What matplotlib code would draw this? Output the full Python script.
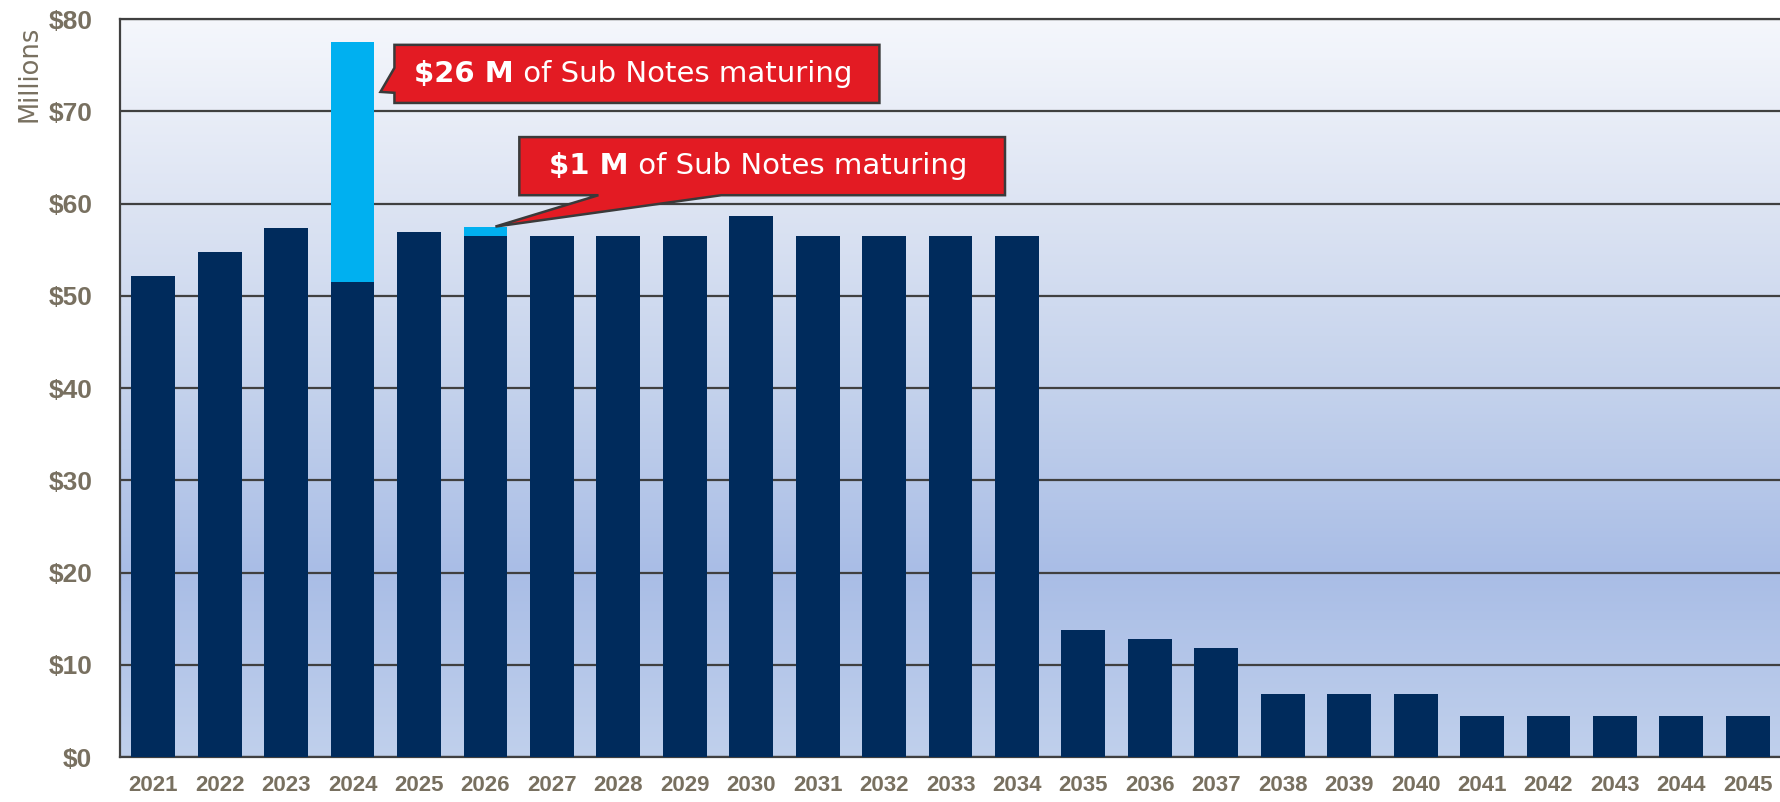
import numpy as np
import matplotlib.pyplot as plt
from matplotlib.patches import Polygon

years = np.arange(2021, 2046)
debt_service = np.array([52.1, 54.7, 57.3, 51.5, 56.9, 56.5, 56.5, 56.5, 56.5, 58.7,
                         56.5, 56.5, 56.5, 56.5, 13.8, 12.8, 11.8, 6.8, 6.8, 6.8,
                         4.4, 4.4, 4.4, 4.4, 4.4])
sub_notes = np.zeros(len(years))
sub_notes[years == 2024] = 26.0
sub_notes[years == 2026] = 1.0

x = np.arange(len(years))

fig = plt.figure(figsize=(17.81, 8.02), dpi=100)
ax = fig.add_axes([0.0674, 0.0561, 0.9326, 0.9202])

# background gradient (light at the top, darker blue low down)
stops_y = [0, 20, 40, 60, 80]
stops_rgb = np.array([[192, 208, 236], [169, 189, 230], [196, 210, 236],
                      [221, 228, 243], [245, 247, 252]]) / 255
yy = np.linspace(80, 0, 400)
grad = np.stack([np.interp(yy, stops_y, stops_rgb[:, i]) for i in range(3)], axis=-1)
plt.imshow(grad[:, None, :], extent=(-0.5, 24.5, 0, 80), aspect='auto', zorder=0)

plt.bar(x, debt_service, width=0.66, color='#002b5c', zorder=3)
plt.bar(x, sub_notes, bottom=debt_service, width=0.66, color='#00b0f0', zorder=3)

plt.xlim(-0.5, 24.5)
plt.ylim(0, 80)
ax.set_axisbelow(True)
plt.grid(axis='y', color='#404040', linewidth=1.6)
for side in ['left', 'bottom', 'top']:
    ax.spines[side].set_color('#404040')
    ax.spines[side].set_linewidth(1.6)
ax.spines['right'].set_visible(False)

label_color = '#787060'
plt.xticks(x, [str(y) for y in years], fontsize=16, fontweight='bold',
           color=label_color, family='Liberation Sans')
plt.yticks(np.arange(0, 81, 10), ['\\$%d' % v for v in range(0, 81, 10)],
           fontsize=19, fontweight='bold', color=label_color, family='Liberation Sans')
ax.tick_params(axis='both', length=0)
ax.tick_params(axis='x', pad=13)
ax.tick_params(axis='y', pad=20)

fig.text(0.0163, 0.968, 'Millions', rotation=90, va='top', ha='center',
         fontsize=18.5, color=label_color)

# callouts
red = '#e31b23'
edge = '#3a3a3a'
callout1 = [(3.63, 77.2), (10.93, 77.2), (10.93, 70.9), (3.63, 70.9),
            (3.63, 72.0), (3.42, 72.1), (3.63, 74.7)]
callout2 = [(5.51, 67.2), (12.82, 67.2), (12.82, 60.9), (8.55, 60.9),
            (5.15, 57.5), (6.70, 60.9), (5.51, 60.9)]
for pts in [callout1, callout2]:
    ax.add_patch(Polygon(pts, closed=True, facecolor=red, edgecolor=edge,
                         linewidth=1.8, zorder=5))

t1 = plt.text(3.93, 74.05, '\\$26 M', fontsize=21, fontweight='bold', color='white',
              va='center', ha='left', zorder=6)
plt.annotate(' of Sub Notes maturing', xy=(1, 0), xycoords=t1, va='bottom', ha='left',
             fontsize=21, color='white', zorder=6)
t2 = plt.text(5.96, 64.05, '\\$1 M', fontsize=21, fontweight='bold', color='white',
              va='center', ha='left', zorder=6)
plt.annotate(' of Sub Notes maturing', xy=(1, 0), xycoords=t2, va='bottom', ha='left',
             fontsize=21, color='white', zorder=6)

plt.savefig('out.png', dpi=100)
